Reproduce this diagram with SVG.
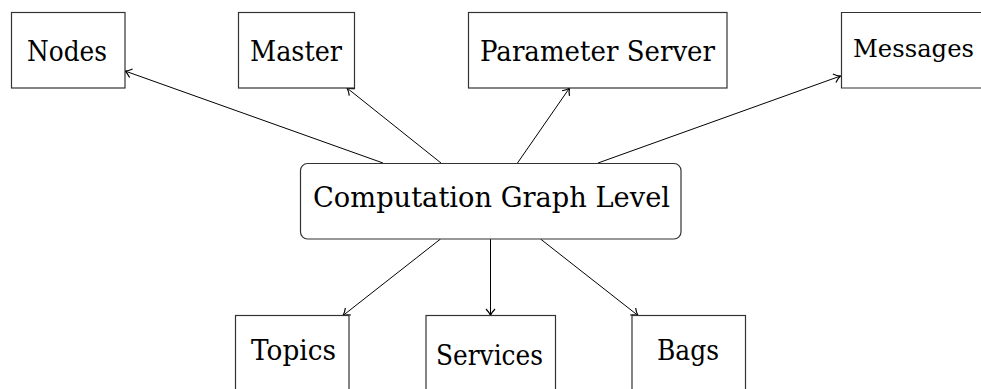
<svg xmlns="http://www.w3.org/2000/svg" width="981" height="389" viewBox="0 0 981 389">
<style>
.box{fill:#fff;stroke:#333;stroke-width:1.2}
.edge{stroke:#000;stroke-width:1;fill:none;marker-end:url(#arr)}
</style>
<defs>
<marker id="arr" markerUnits="userSpaceOnUse" markerWidth="14" markerHeight="14" viewBox="-8 -7 9 14" refX="0" refY="0" orient="auto">
<path d="M-6.5,-4.5 C-4,-2 -1.5,-0.6 0,0 C-1.5,0.6 -4,2 -6.5,4.5" fill="none" stroke="#000" stroke-width="1.2"/>
</marker>
</defs>
<rect width="981" height="389" fill="#fff"/>
<g id="connectors">
<line class="edge" x1="383" y1="163" x2="125" y2="71"/>
<line class="edge" x1="441" y1="163" x2="347" y2="88"/>
<line class="edge" x1="517.5" y1="163" x2="569.5" y2="88"/>
<line class="edge" x1="598" y1="163" x2="840.5" y2="76"/>
<line class="edge" x1="440.5" y1="239" x2="343" y2="315.5"/>
<line class="edge" x1="490.5" y1="239" x2="490.5" y2="315.5"/>
<line class="edge" x1="540.5" y1="239" x2="638" y2="315.5"/>
</g>
<g font-family="'DejaVu Serif', 'Liberation Serif', serif" font-size="27" fill="#000">
<g id="nodes">
<rect class="box" x="11.5" y="12.5" width="113.5" height="75.5"/>
<text x="27" y="61" textLength="80" lengthAdjust="spacingAndGlyphs">Nodes</text>
</g>
<g id="master">
<rect class="box" x="238.5" y="12.5" width="116" height="75.5"/>
<text x="250" y="61" textLength="92" lengthAdjust="spacingAndGlyphs">Master</text>
</g>
<g id="parameter-server">
<rect class="box" x="468.5" y="12.5" width="258.5" height="75.5"/>
<text x="480" y="61" textLength="235" lengthAdjust="spacingAndGlyphs">Parameter Server</text>
</g>
<g id="messages">
<path class="box" d="M982,12.5 H841.5 V88 H982"/>
<text x="853" y="57" font-size="25" textLength="121" lengthAdjust="spacingAndGlyphs">Messages</text>
</g>
<g id="computation-graph-level">
<rect class="box" x="300.5" y="163.5" width="380.5" height="75.5" rx="7" ry="7"/>
<text x="313" y="207" textLength="357" lengthAdjust="spacingAndGlyphs">Computation Graph Level</text>
</g>
<g id="topics">
<rect class="box" x="235.5" y="315.5" width="113.5" height="100"/>
<text x="251" y="360" textLength="85" lengthAdjust="spacingAndGlyphs">Topics</text>
</g>
<g id="services">
<rect class="box" x="426" y="315.5" width="129.5" height="100"/>
<text x="436" y="365" textLength="107" lengthAdjust="spacingAndGlyphs">Services</text>
</g>
<g id="bags">
<rect class="box" x="632" y="315.5" width="113.5" height="100"/>
<text x="657" y="360" textLength="62" lengthAdjust="spacingAndGlyphs">Bags</text>
</g>
</g>
</svg>
